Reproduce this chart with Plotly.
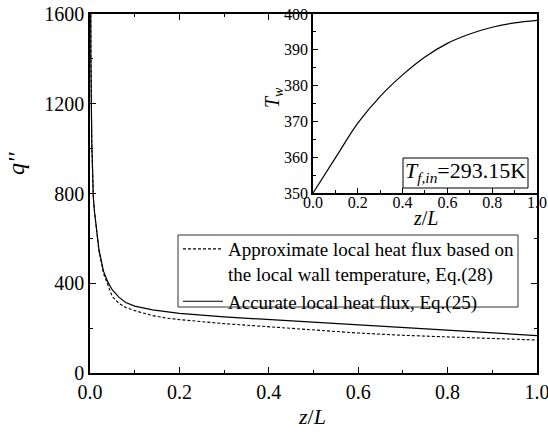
import plotly.graph_objects as go

# Main panel: local heat flux along the channel
z_main = [0.0, 0.001, 0.002, 0.004, 0.005, 0.0075, 0.01, 0.015, 0.02, 0.03, 0.04,
          0.05, 0.065, 0.08, 0.1, 0.14, 0.17, 0.2, 0.3, 0.4, 0.5, 0.6, 0.7, 0.8,
          0.9, 1.0]
q_accurate = [2600, 1750, 1400, 1025, 900, 780, 720, 620, 550, 455, 405,
              370, 337, 314, 298, 281, 273, 266, 250, 238, 226, 213, 201, 190,
              178, 167]
q_approx = [2600, 1750, 1400, 1025, 900, 780, 720, 618, 545, 445, 388,
            340, 310, 292, 278, 256, 245, 238, 220, 205, 191, 178, 168, 160,
            153, 147]

# Inset: wall temperature along the channel
z_inset = [0.0, 0.1, 0.2, 0.3, 0.4, 0.5, 0.6, 0.7, 0.8, 0.9, 1.0]
t_wall = [350.0, 359.8, 369.5, 377.0, 383.0, 388.0, 391.8, 394.4, 396.3, 397.5, 398.2]

legend_approx = "Approximate local heat flux based on<br>the local wall temperature, Eq.(28)"
legend_accurate = "Accurate local heat flux, Eq.(25)"

W, H = 548, 434
L, R, T, B = 90, 11, 14, 61
PW, PH = W - L - R, H - T - B


def px(xp):
    return (xp - L) / PW


def py(yp):
    return (H - B - yp) / PH


FONT = "'Liberation Serif', Tinos, 'Times New Roman', Times, serif"

fig = go.Figure()
fig.add_trace(go.Scatter(x=z_main, y=q_approx, mode="lines", name=legend_approx,
                         line=dict(color="black", width=1.1, dash="3px,2px")))
fig.add_trace(go.Scatter(x=z_main, y=q_accurate, mode="lines", name=legend_accurate,
                         line=dict(color="black", width=1.2)))
fig.add_trace(go.Scatter(x=z_inset, y=t_wall, mode="lines", showlegend=False,
                         line=dict(color="black", width=1.2, shape="spline"),
                         xaxis="x2", yaxis="y2"))

axis_common = dict(showline=True, linecolor="black", linewidth=1.5, ticks="inside",
                   tickcolor="black", showgrid=False, zeroline=False, automargin=False,
                   ticklabeloverflow="allow")

fig.update_layout(
    width=W, height=H,
    margin=dict(l=L, r=R, t=T, b=B, autoexpand=False),
    paper_bgcolor="white", plot_bgcolor="white",
    font=dict(family=FONT, color="black"),
    xaxis=dict(**axis_common, range=[0, 1.0001], dtick=0.2, tick0=0, tickformat=".1f",
               ticklen=6, tickwidth=1.2, mirror="ticks",
               minor=dict(dtick=0.1, ticklen=3, ticks="inside", tickcolor="black"),
               tickfont=dict(size=20, family=FONT)),
    yaxis=dict(**axis_common, range=[0, 1600], dtick=400, tick0=0,
               ticklen=6, tickwidth=1.2, mirror="ticks",
               minor=dict(dtick=200, ticklen=3, ticks="inside", tickcolor="black"),
               tickfont=dict(size=20, family=FONT)),
    xaxis2=dict(**axis_common, domain=[px(313), 1.0], anchor="y2", range=[0, 1.0001],
                dtick=0.2, tick0=0, tickformat=".1f", ticklen=5, tickwidth=1,
                ticklabelstandoff=-6,
                minor=dict(dtick=0.1, ticklen=3, ticks="inside", tickcolor="black"),
                tickfont=dict(size=16, family=FONT)),
    yaxis2=dict(**axis_common, domain=[py(193), 1.0], anchor="x2", range=[350, 400],
                dtick=10, tick0=350, ticklen=5, tickwidth=1,
                minor=dict(dtick=5, ticklen=3, ticks="inside", tickcolor="black"),
                tickfont=dict(size=16, family=FONT)),
    legend=dict(x=px(178), y=py(230), xanchor="left", yanchor="top",
                borderwidth=0, bgcolor="rgba(0,0,0,0)",
                font=dict(size=19, family=FONT), valign="top",
                tracegroupgap=0, itemwidth=40),
    showlegend=True,
)

# Inset background
fig.add_shape(type="rect", xref="paper", yref="paper", x0=px(313), x1=1.0,
              y0=py(193), y1=1.0, fillcolor="white", line=dict(width=0), layer="below")

# Legend frame
fig.add_shape(type="rect", xref="paper", yref="paper", x0=px(178), x1=px(518),
              y0=py(307), y1=py(235), line=dict(color="#333", width=1),
              fillcolor="white", layer="below")

# Inlet temperature label box
fig.add_shape(type="rect", xref="paper", yref="paper", x0=px(403), x1=px(528),
              y0=py(188), y1=py(158), line=dict(color="black", width=1),
              fillcolor="white")

annotations = [
    dict(text="<i>T</i><sub><i>f,in</i></sub>=293.15K", x=px(465.5), y=py(172),
         size=22),
    dict(text="<i>q''</i>", x=px(16), y=py(164), textangle=-90, size=24),
    dict(text="<i>z</i>/<i>L</i>", x=px(312), y=py(416), size=22),
    dict(text="<i>T</i><sub><i>w</i></sub>", x=px(273), y=py(98), textangle=-90,
         size=20),
    dict(text="<i>z</i>/<i>L</i>", x=px(425), y=py(218), size=20),
]
for a in annotations:
    size = a.pop("size")
    fig.add_annotation(xref="paper", yref="paper", showarrow=False,
                       xanchor="center", yanchor="middle",
                       font=dict(family=FONT, color="black", size=size), **a)

fig.write_html("out.html")
